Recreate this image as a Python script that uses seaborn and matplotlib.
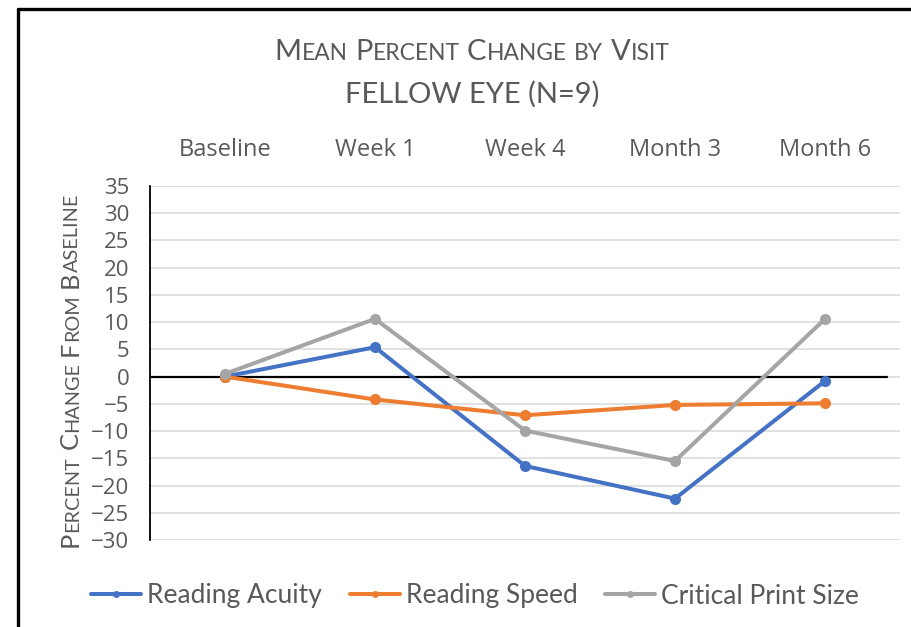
import numpy as np
import pandas as pd
import matplotlib
matplotlib.use('Agg')
import matplotlib.pyplot as plt
import seaborn as sns
from matplotlib.lines import Line2D
from matplotlib.transforms import IdentityTransform

visits = ['Baseline', 'Week 1', 'Week 4', 'Month 3', 'Month 6']
reading_acuity = [0, 5.4, -16.4, -22.4, -0.8]
reading_speed = [0, -4.2, -7.1, -5.2, -4.9]
critical_print_size = [0.5, 10.6, -9.9, -15.5, 10.6]
measures = ['Reading Acuity', 'Reading Speed', 'Critical Print Size']
colors = ['#4472C4', '#ED7D31', '#A5A5A5']
yticks = list(range(-30, 40, 5))

df = pd.DataFrame({
    'Visit': visits * 3,
    'Change': reading_acuity + reading_speed + critical_print_size,
    'Measure': [m for m in measures for _ in visits],
})

sns.set_theme(style='white')
plt.rcParams['font.family'] = ['Lato', 'DejaVu Sans']
txt_color = '#595959'

fig = plt.figure(figsize=(9.11, 6.27), dpi=100)
ax = fig.add_axes([150 / 911, 1 - 540 / 627, 750 / 911, 354 / 627])

ax.axhline(0, xmin=0, xmax=0.983, color='black', lw=1.6, zorder=1.5)
sns.lineplot(data=df, x='Visit', y='Change', hue='Measure', palette=colors,
             hue_order=measures, sort=False, marker='o', markersize=8,
             markeredgewidth=0, linewidth=2.9, legend=False, ax=ax, zorder=3)

ax.set_xlim(-0.5, 4.5)
ax.set_ylim(-30, 35)
ax.set_yticks(yticks)
ax.yaxis.grid(True, color='#D9D9D9', lw=1.1)
ax.xaxis.grid(False)
ax.xaxis.tick_top()
ax.tick_params(axis='x', length=0, pad=17.5, labelsize=17, labelcolor=txt_color)
ax.tick_params(axis='y', length=0, pad=15, labelsize=16, labelcolor=txt_color)
for lab in ax.get_xticklabels() + ax.get_yticklabels():
    lab.set_family(['Open Sans', 'DejaVu Sans'])
ax.set_xlabel('')
ax.set_ylabel('')
for s in ['top', 'right', 'bottom']:
    ax.spines[s].set_visible(False)
ax.spines['left'].set_color('black')
ax.spines['left'].set_linewidth(1.3)

handles = [Line2D([], [], color=c, lw=2.9, marker='o', ms=5, markeredgewidth=0) for c in colors]
ax.legend(handles, measures, loc='center', bbox_to_anchor=(475 / 911, 1 - 596 / 627),
          bbox_transform=fig.transFigure, ncol=3, frameon=False, fontsize=19,
          handlelength=1.9, handletextpad=0.23, columnspacing=1.05, labelcolor=txt_color)


# fake small caps: big first letter, smaller rest, placed piece by piece in pixels
def small_caps(text, x, y, size, rotation=0, ratio=0.78):
    renderer = fig.canvas.get_renderer()
    pieces = []
    for word in text.split(' '):
        if word[0].islower():
            pieces.append((word.upper(), size * ratio, False))
        else:
            pieces.append((word[0], size, False))
            if len(word) > 1:
                pieces.append((word[1:].upper(), size * ratio, False))
        pieces.append(('', size, True))
    pieces = pieces[:-1]
    gap = size * 0.26 * 100 / 72
    arts = []
    total = 0
    for s, sz, is_gap in pieces:
        if is_gap:
            arts.append(None)
            total += gap
            continue
        t = fig.text(0, 0, s, fontsize=sz, color=txt_color, rotation=rotation,
                     rotation_mode='anchor', ha='left', va='baseline',
                     transform=IdentityTransform())
        bb = t.get_window_extent(renderer)
        w = bb.height if rotation else bb.width
        arts.append((t, w))
        total += w
    pos = -total / 2
    for a in arts:
        if a is None:
            pos += gap
            continue
        t, w = a
        if rotation:
            t.set_position((x, y + pos))
        else:
            t.set_position((x + pos, y))
        pos += w


small_caps('Mean Percent Change by Visit', 472, 627 - 60, 21)
fig.text(472, 627 - 103, 'FELLOW EYE (N=9)', fontsize=21, color=txt_color,
         ha='center', va='baseline', transform=IdentityTransform())
small_caps('Percent Change From Baseline', 78, 627 - 370, 18.3, rotation=90)

# outer frame (left and top edges)
fig.add_artist(Line2D([18 / 911, 18 / 911], [0, 1 - 9 / 627], color='black', lw=2.4,
                      transform=fig.transFigure))
fig.add_artist(Line2D([18 / 911, 1], [1 - 9 / 627, 1 - 9 / 627], color='black', lw=2.4,
                      transform=fig.transFigure))

fig.savefig('out.png', dpi=100)
